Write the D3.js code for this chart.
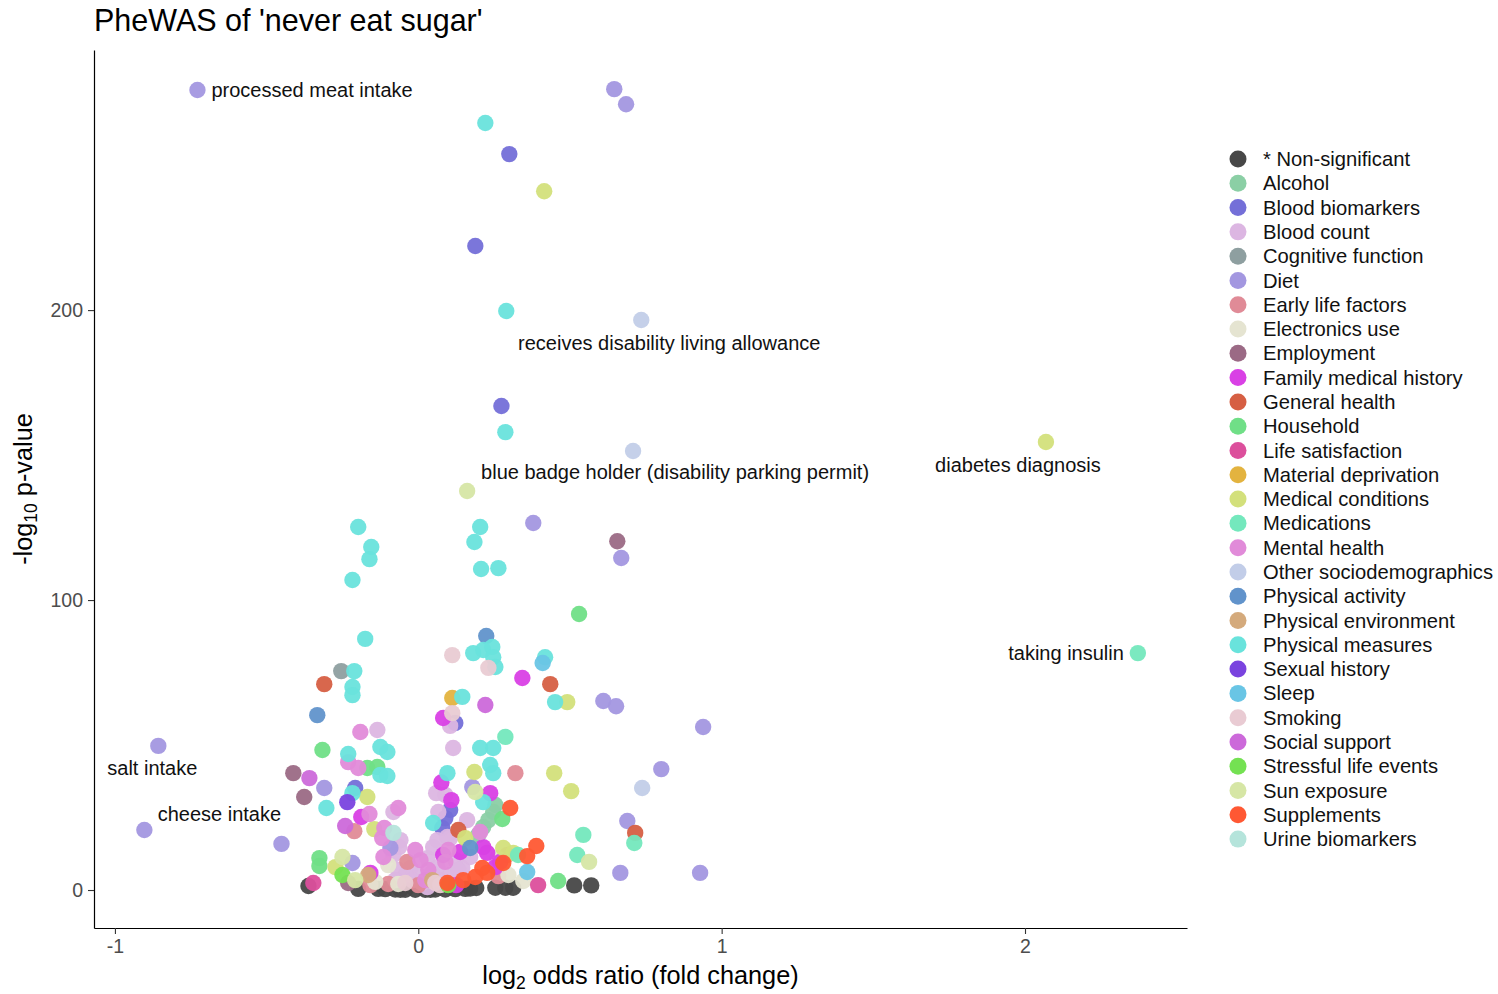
<!DOCTYPE html>
<html>
<head>
<meta charset="utf-8">
<script src="https://cdn.jsdelivr.net/npm/d3@7"></script>
<style>
  body { margin: 0; background: #ffffff; }
  text { font-family: "Liberation Sans", Arial, Helvetica, sans-serif; }
</style>
</head>
<body>
<svg id="chart" width="1498" height="994"></svg>
<script>
// ---- data ----
var categories = ["* Non-significant", "Alcohol", "Blood biomarkers", "Blood count", "Cognitive function",
  "Diet", "Early life factors", "Electronics use", "Employment", "Family medical history",
  "General health", "Household", "Life satisfaction", "Material deprivation", "Medical conditions",
  "Medications", "Mental health", "Other sociodemographics", "Physical activity", "Physical environment",
  "Physical measures", "Sexual history", "Sleep", "Smoking", "Social support",
  "Stressful life events", "Sun exposure", "Supplements", "Urine biomarkers"];

var categoryColors = ["#474747", "#8bcfa5", "#746fd8", "#dcb6e2", "#8e9fa0",
  "#a397e0", "#e08b97", "#e5e4d1", "#9b6a85", "#d940e5",
  "#d65f43", "#70df87", "#dc4f9c", "#e3b33f", "#d3e07b",
  "#74e8bd", "#e18bd9", "#c2cde8", "#6193cb", "#d4aa7c",
  "#69e3dc", "#7a43df", "#69c5e5", "#e9cbd3", "#cc69da",
  "#74e152", "#d6e6a5", "#ff5833", "#b5e4db"];

var xTicks = [-1, 0, 1, 2];
var yTicks = [0, 100, 200];

// [log2 odds ratio, -log10 p, category]
var points = [
  [-0.362, 1.4, "* Non-significant"], [-0.198, 0.4, "* Non-significant"], [-0.132, 0.4, "* Non-significant"],
  [-0.109, 0.3, "* Non-significant"], [-0.076, 0.2, "* Non-significant"], [-0.059, 0.1, "* Non-significant"],
  [-0.043, 0.1, "* Non-significant"], [-0.010, 0.1, "* Non-significant"], [0.023, 0.1, "* Non-significant"],
  [0.040, 0.1, "* Non-significant"], [0.056, 0.2, "* Non-significant"], [0.089, 0.2, "* Non-significant"],
  [0.122, 0.3, "* Non-significant"], [0.155, 0.4, "* Non-significant"], [0.171, 0.5, "* Non-significant"],
  [0.191, 0.7, "* Non-significant"], [0.254, 0.8, "* Non-significant"], [0.287, 0.8, "* Non-significant"],
  [0.313, 0.8, "* Non-significant"], [0.514, 1.6, "* Non-significant"], [0.570, 1.6, "* Non-significant"],

  [0.254, 29.3, "Alcohol"], [0.247, 26.9, "Alcohol"], [0.231, 24.1, "Alcohol"], [0.214, 21.7, "Alcohol"], [0.198, 19.0, "Alcohol"],

  [0.300, 253.8, "Blood biomarkers"], [0.188, 222.1, "Blood biomarkers"], [0.274, 166.9, "Blood biomarkers"],
  [0.122, 57.6, "Blood biomarkers"], [-0.208, 35.2, "Blood biomarkers"], [0.105, 27.6, "Blood biomarkers"],
  [0.079, 21.4, "Blood biomarkers"], [0.089, 24.8, "Blood biomarkers"],

  [-0.135, 55.2, "Blood count"], [0.105, 56.6, "Blood count"], [0.115, 49.0, "Blood count"], [0.089, 32.8, "Blood count"],
  [0.066, 26.9, "Blood count"], [0.059, 33.4, "Blood count"], [0.161, 24.1, "Blood count"], [0.105, 17.9, "Blood count"],
  [-0.082, 26.9, "Blood count"], [-0.063, 14.8, "Blood count"], [-0.082, 12.1, "Blood count"], [0.046, 5.9, "Blood count"],
  [0.063, 7.9, "Blood count"], [0.030, 11.0, "Blood count"], [0.049, 14.8, "Blood count"], [0.063, 17.2, "Blood count"],
  [0.096, 18.3, "Blood count"], [-0.059, 17.2, "Blood count"], [0.030, 1.0, "Blood count"], [0.000, 5.2, "Blood count"],
  [-0.026, 7.6, "Blood count"], [0.122, 10.3, "Blood count"], [0.145, 7.6, "Blood count"], [0.171, 11.4, "Blood count"],
  [-0.043, 5.2, "Blood count"], [-0.020, 3.4, "Blood count"], [0.013, 2.4, "Blood count"], [0.072, 3.4, "Blood count"],
  [0.105, 5.2, "Blood count"], [0.132, 6.9, "Blood count"], [-0.066, 6.9, "Blood count"], [-0.076, 3.4, "Blood count"],

  [-0.254, 75.5, "Cognitive function"],

  [-0.728, 275.9, "Diet"], [0.646, 276.2, "Diet"], [0.685, 271.0, "Diet"], [0.379, 126.6, "Diet"], [0.669, 114.5, "Diet"],
  [0.610, 65.2, "Diet"], [0.652, 63.4, "Diet"], [0.939, 56.2, "Diet"], [0.801, 41.7, "Diet"], [0.689, 23.8, "Diet"],
  [0.666, 5.9, "Diet"], [0.929, 5.9, "Diet"], [-0.857, 49.7, "Diet"], [-0.903, 20.7, "Diet"], [-0.451, 15.9, "Diet"],
  [-0.310, 35.2, "Diet"], [0.178, 35.5, "Diet"], [-0.092, 14.5, "Diet"], [-0.217, 9.3, "Diet"],

  [0.320, 40.3, "Early life factors"], [-0.211, 20.3, "Early life factors"], [-0.036, 9.7, "Early life factors"],
  [-0.158, 1.7, "Early life factors"], [-0.099, 2.1, "Early life factors"], [0.293, 12.1, "Early life factors"],
  [0.264, 4.8, "Early life factors"], [0.000, 1.7, "Early life factors"],

  [-0.099, 8.6, "Electronics use"], [0.260, 11.0, "Electronics use"], [0.297, 5.2, "Electronics use"], [0.346, 3.1, "Electronics use"],
  [-0.142, 2.8, "Electronics use"], [-0.066, 2.1, "Electronics use"],

  [0.656, 120.3, "Employment"], [-0.412, 40.3, "Employment"], [-0.376, 32.1, "Employment"], [-0.231, 2.4, "Employment"],

  [0.343, 73.1, "Family medical history"], [0.082, 59.3, "Family medical history"], [0.076, 37.1, "Family medical history"],
  [0.109, 31.0, "Family medical history"], [0.237, 33.4, "Family medical history"], [-0.188, 25.2, "Family medical history"],
  [0.214, 14.8, "Family medical history"], [0.138, 13.1, "Family medical history"], [0.227, 12.8, "Family medical history"],
  [0.082, 12.1, "Family medical history"], [0.254, 7.9, "Family medical history"], [-0.158, 5.9, "Family medical history"],
  [0.270, 9.7, "Family medical history"], [0.125, 1.7, "Family medical history"],

  [-0.310, 71.0, "General health"], [0.435, 71.0, "General health"], [0.715, 19.7, "General health"], [0.132, 20.7, "General health"],

  [0.530, 95.2, "Household"], [-0.316, 48.3, "Household"], [-0.168, 42.1, "Household"], [-0.135, 42.4, "Household"],
  [0.277, 24.5, "Household"], [-0.326, 11.0, "Household"], [-0.326, 8.3, "Household"], [0.461, 3.1, "Household"],

  [-0.346, 2.4, "Life satisfaction"], [0.395, 1.7, "Life satisfaction"],

  [0.112, 66.2, "Material deprivation"],

  [0.415, 241.0, "Medical conditions"], [2.069, 154.5, "Medical conditions"], [0.491, 64.8, "Medical conditions"],
  [0.448, 40.3, "Medical conditions"], [0.504, 34.1, "Medical conditions"], [0.185, 40.7, "Medical conditions"],
  [-0.168, 32.1, "Medical conditions"], [-0.145, 21.0, "Medical conditions"], [-0.273, 7.9, "Medical conditions"],
  [0.155, 17.9, "Medical conditions"], [0.280, 14.5, "Medical conditions"], [0.313, 12.8, "Medical conditions"],

  [2.372, 81.7, "Medications"], [0.287, 52.8, "Medications"], [0.544, 19.0, "Medications"], [0.524, 12.1, "Medications"],
  [0.712, 16.2, "Medications"], [0.329, 12.1, "Medications"],

  [-0.191, 54.5, "Mental health"], [-0.231, 44.1, "Mental health"], [-0.198, 42.1, "Mental health"], [-0.161, 26.2, "Mental health"],
  [-0.066, 28.3, "Mental health"], [-0.112, 21.4, "Mental health"], [-0.119, 17.9, "Mental health"], [-0.115, 11.4, "Mental health"],
  [0.007, 10.3, "Mental health"], [0.204, 20.0, "Mental health"], [0.099, 13.8, "Mental health"], [0.023, 3.4, "Mental health"],
  [0.033, 6.9, "Mental health"], [-0.010, 13.8, "Mental health"], [0.089, 9.7, "Mental health"],

  [0.735, 196.6, "Other sociodemographics"], [0.708, 151.4, "Other sociodemographics"], [0.738, 35.2, "Other sociodemographics"],

  [0.224, 87.6, "Physical activity"], [-0.333, 60.3, "Physical activity"], [0.171, 14.5, "Physical activity"],

  [-0.165, 5.2, "Physical environment"], [0.046, 3.4, "Physical environment"],

  [0.221, 264.5, "Physical measures"], [0.290, 199.7, "Physical measures"], [0.287, 157.9, "Physical measures"],
  [-0.198, 125.2, "Physical measures"], [-0.155, 118.3, "Physical measures"], [-0.161, 114.1, "Physical measures"],
  [-0.217, 106.9, "Physical measures"], [0.204, 125.2, "Physical measures"], [0.185, 120.0, "Physical measures"],
  [0.207, 110.7, "Physical measures"], [0.264, 111.0, "Physical measures"], [-0.175, 86.6, "Physical measures"],
  [-0.211, 75.5, "Physical measures"], [-0.217, 70.0, "Physical measures"], [-0.217, 67.2, "Physical measures"],
  [0.181, 81.7, "Physical measures"], [0.214, 82.8, "Physical measures"], [0.244, 83.8, "Physical measures"],
  [0.247, 80.3, "Physical measures"], [0.254, 76.9, "Physical measures"], [0.418, 80.3, "Physical measures"],
  [0.451, 64.8, "Physical measures"], [0.145, 66.6, "Physical measures"], [0.204, 49.0, "Physical measures"],
  [0.247, 49.0, "Physical measures"], [-0.231, 46.9, "Physical measures"], [-0.125, 49.3, "Physical measures"],
  [-0.102, 47.6, "Physical measures"], [-0.125, 39.7, "Physical measures"], [-0.102, 39.3, "Physical measures"],
  [-0.303, 28.3, "Physical measures"], [0.237, 43.1, "Physical measures"], [0.247, 40.3, "Physical measures"],
  [0.096, 40.3, "Physical measures"], [0.214, 30.3, "Physical measures"], [0.049, 23.1, "Physical measures"],
  [-0.217, 33.4, "Physical measures"],

  [-0.234, 30.3, "Sexual history"],

  [0.410, 78.3, "Sleep"], [0.359, 6.2, "Sleep"],

  [0.112, 81.0, "Smoking"], [0.231, 76.6, "Smoking"], [0.112, 61.0, "Smoking"], [-0.043, 2.4, "Smoking"], [0.056, 2.4, "Smoking"],
  [0.072, 1.7, "Smoking"],

  [0.221, 63.8, "Social support"], [-0.359, 38.6, "Social support"], [-0.241, 22.1, "Social support"],

  [-0.250, 5.2, "Stressful life events"], [0.099, 1.7, "Stressful life events"],

  [0.161, 137.6, "Sun exposure"], [-0.250, 11.4, "Sun exposure"], [-0.208, 3.4, "Sun exposure"], [0.188, 33.8, "Sun exposure"],
  [0.563, 9.7, "Sun exposure"],

  [0.303, 28.3, "Supplements"], [0.389, 15.2, "Supplements"], [0.359, 11.7, "Supplements"], [0.280, 9.3, "Supplements"],
  [0.211, 7.6, "Supplements"], [0.227, 5.9, "Supplements"], [0.188, 4.5, "Supplements"], [0.148, 3.4, "Supplements"],
  [0.096, 2.4, "Supplements"],

  [-0.082, 19.7, "Urine biomarkers"]
];

// labelled phenotypes: [log2 OR, -log10 p, text]
var labelledPoints = [
  [-0.728, 275.9, "processed meat intake"],
  [0.735, 196.6, "receives disability living allowance"],
  [0.708, 151.4, "blue badge holder (disability parking permit)"],
  [2.069, 154.5, "diabetes diagnosis"],
  [2.372, 81.7, "taking insulin"],
  [-0.857, 49.7, "salt intake"],
  [-0.903, 20.7, "cheese intake"]
];

// ---- layout ----
var svg = d3.select("#chart");
var panel_left = 94, panel_top = 50, panel_right = 1187, panel_bottom = 928;
var dot_r = 8.2;
var axis_text_color = "#4d4d4d";

// where each label sits relative to its point (pixels) and its anchor
var labelNudge = {
  "processed meat intake": [14, 0, "start"],
  "receives disability living allowance": [28, 23, "middle"],
  "blue badge holder (disability parking permit)": [42, 21, "middle"],
  "diabetes diagnosis": [-28, 23, "middle"],
  "taking insulin": [-14, 0, "end"],
  "salt intake": [-6, 22, "middle"],
  "cheese intake": [75, -16, "middle"]
};

var x = d3.scaleLinear().domain([-1.069, 2.534]).range([panel_left, panel_right]);
var y = d3.scaleLinear().domain([-13.1, 289.7]).range([panel_bottom, panel_top]);
var color = d3.scaleOrdinal().domain(categories).range(categoryColors);

// Title
svg.append("text")
  .text("PheWAS of 'never eat sugar'")
  .attr("x", panel_left)
  .attr("y", 31)
  .style("font-size", "30.5px")
  .style("fill", "#000");

// Points (non-significant first so they sit underneath)
svg.append("g").attr("class", "dots")
  .selectAll("circle")
  .data(points)
  .join("circle")
  .attr("cx", d => x(d[0]))
  .attr("cy", d => y(d[1]))
  .attr("r", dot_r)
  .style("fill", d => color(d[2]))
  .style("opacity", 0.95);

// Axes
var xAxis = svg.append("g")
  .attr("transform", "translate(0," + panel_bottom + ")")
  .call(d3.axisBottom(x).tickValues(xTicks).tickSize(6).tickSizeOuter(0).tickPadding(5).tickFormat(d => String(d)));

var yAxis = svg.append("g")
  .attr("transform", "translate(" + panel_left + ",0)")
  .call(d3.axisLeft(y).tickValues(yTicks).tickSize(6).tickSizeOuter(0).tickPadding(5).tickFormat(d => String(d)));

[xAxis, yAxis].forEach(function (g) {
  g.select(".domain").attr("stroke", "#000").attr("stroke-width", 1.2);
  g.selectAll(".tick line").attr("stroke", "#333").attr("stroke-width", 1.1);
  g.selectAll(".tick text")
    .style("font-size", "19.5px")
    .style("fill", axis_text_color)
    .style("font-family", "'Liberation Sans', Arial, sans-serif");
});

// Axis titles with subscripts
var xTitle = svg.append("text")
  .attr("x", (panel_left + panel_right) / 2)
  .attr("y", 984)
  .attr("text-anchor", "middle")
  .style("font-size", "25.3px")
  .style("fill", "#000");
xTitle.append("tspan").text("log");
xTitle.append("tspan").text("2").attr("dy", 5).style("font-size", "17.5px");
xTitle.append("tspan").text(" odds ratio (fold change)").attr("dy", -5);

var yTitle = svg.append("text")
  .attr("transform", "translate(32," + ((panel_top + panel_bottom) / 2) + ") rotate(-90)")
  .attr("text-anchor", "middle")
  .style("font-size", "25.3px")
  .style("fill", "#000");
yTitle.append("tspan").text("-log");
yTitle.append("tspan").text("10").attr("dy", 5).style("font-size", "17.5px");
yTitle.append("tspan").text(" p-value").attr("dy", -5);

// Point labels
svg.append("g").attr("class", "labels")
  .selectAll("text")
  .data(labelledPoints)
  .join("text")
  .text(d => d[2])
  .attr("x", d => x(d[0]) + labelNudge[d[2]][0])
  .attr("y", d => y(d[1]) + labelNudge[d[2]][1])
  .attr("dy", "0.35em")
  .attr("text-anchor", d => labelNudge[d[2]][2])
  .style("font-size", "20px")
  .style("fill", "#111");

// Legend
var legend_x = 1238, legend_y = 159, legend_step = 24.29;
var legend = svg.append("g").attr("class", "legend");
categories.forEach(function (c, i) {
  legend.append("circle")
    .attr("cx", legend_x)
    .attr("cy", legend_y + i * legend_step)
    .attr("r", 8.5)
    .style("fill", color(c));
  legend.append("text")
    .text(c)
    .attr("x", legend_x + 25)
    .attr("y", legend_y + i * legend_step)
    .attr("dy", "0.35em")
    .style("font-size", "20.2px")
    .style("fill", "#111");
});
</script>
</body>
</html>
